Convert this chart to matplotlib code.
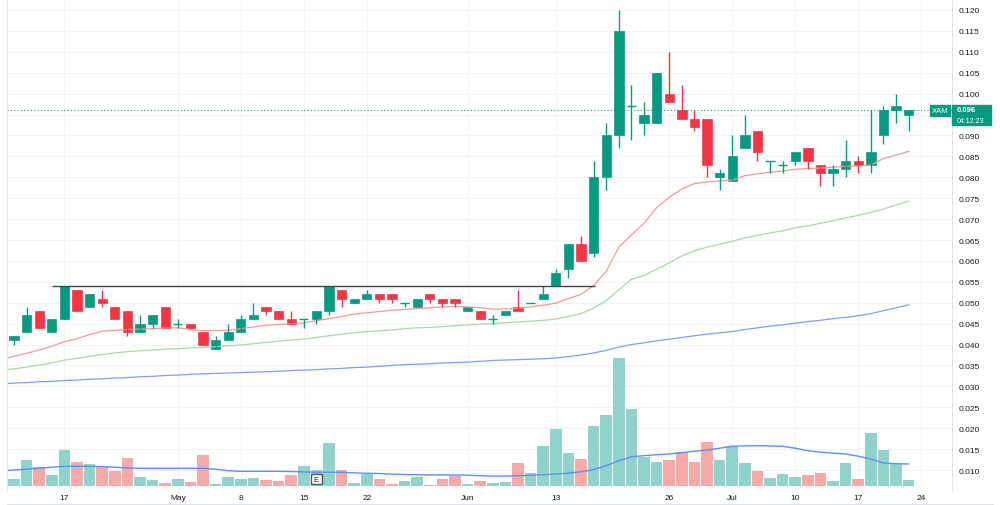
import numpy as np
import matplotlib
matplotlib.use('Agg')
import matplotlib.pyplot as plt
from matplotlib.patches import Rectangle
from matplotlib.lines import Line2D

# OHLC, one row per trading day (11 Apr .. 21 Jul)
opens = [0.041, 0.043, 0.048, 0.043, 0.046, 0.053, 0.049, 0.051, 0.049, 0.048,
         0.043, 0.045, 0.049, 0.045, 0.045, 0.043, 0.039, 0.041, 0.043, 0.046,
         0.049, 0.048, 0.046, 0.046, 0.046, 0.048, 0.053, 0.050, 0.051, 0.052,
         0.052, 0.050, 0.049, 0.052, 0.051, 0.051, 0.048, 0.048, 0.046, 0.047,
         0.049, 0.050, 0.051, 0.054, 0.058, 0.064, 0.062, 0.080, 0.090, 0.097,
         0.093, 0.093, 0.100, 0.096, 0.094, 0.094, 0.080, 0.079, 0.087, 0.091,
         0.084, 0.083, 0.084, 0.087, 0.083, 0.081, 0.082, 0.084, 0.083, 0.090,
         0.096, 0.095]
highs = [0.042, 0.049, 0.048, 0.046, 0.054, 0.053, 0.052, 0.053, 0.049, 0.048,
         0.047, 0.047, 0.049, 0.046, 0.045, 0.043, 0.042, 0.045, 0.047, 0.050,
         0.049, 0.048, 0.048, 0.046, 0.048, 0.054, 0.053, 0.051, 0.053, 0.052,
         0.052, 0.050, 0.051, 0.052, 0.051, 0.051, 0.049, 0.048, 0.047, 0.048,
         0.053, 0.050, 0.054, 0.058, 0.064, 0.066, 0.084, 0.093, 0.120, 0.102,
         0.098, 0.105, 0.110, 0.102, 0.096, 0.094, 0.082, 0.090, 0.095, 0.091,
         0.084, 0.084, 0.086, 0.087, 0.083, 0.083, 0.089, 0.085, 0.096, 0.097,
         0.100, 0.096]
lows = [0.040, 0.043, 0.044, 0.043, 0.046, 0.048, 0.049, 0.049, 0.046, 0.042,
        0.043, 0.044, 0.044, 0.044, 0.044, 0.040, 0.039, 0.041, 0.043, 0.046,
        0.047, 0.046, 0.045, 0.044, 0.045, 0.047, 0.049, 0.050, 0.051, 0.050,
        0.050, 0.049, 0.049, 0.050, 0.049, 0.049, 0.048, 0.046, 0.045, 0.047,
        0.048, 0.050, 0.051, 0.054, 0.056, 0.060, 0.061, 0.077, 0.087, 0.089,
        0.090, 0.093, 0.098, 0.094, 0.091, 0.080, 0.077, 0.079, 0.087, 0.084,
        0.081, 0.081, 0.083, 0.082, 0.078, 0.078, 0.080, 0.081, 0.081, 0.088,
        0.093, 0.091]
closes = [0.042, 0.047, 0.044, 0.046, 0.054, 0.048, 0.052, 0.050, 0.046, 0.043,
          0.045, 0.047, 0.044, 0.045, 0.044, 0.040, 0.041, 0.043, 0.046, 0.047,
          0.048, 0.046, 0.045, 0.046, 0.048, 0.054, 0.051, 0.051, 0.052, 0.051,
          0.051, 0.050, 0.051, 0.051, 0.050, 0.050, 0.049, 0.046, 0.046, 0.048,
          0.048, 0.050, 0.052, 0.057, 0.064, 0.060, 0.080, 0.090, 0.115, 0.097,
          0.095, 0.105, 0.098, 0.094, 0.092, 0.083, 0.081, 0.085, 0.090, 0.086,
          0.084, 0.083, 0.086, 0.084, 0.081, 0.082, 0.084, 0.083, 0.086, 0.096,
          0.097, 0.096]
# volume (millions)
volume = [0.67, 2.6, 1.83, 1.07, 3.6, 2.33, 2.17, 1.83, 1.43, 2.77,
          0.9, 0.6, 0.27, 0.67, 0.33, 3.1, 0.17, 0.87, 0.67, 0.77,
          0.6, 0.43, 1.1, 1.93, 1.57, 4.23, 1.57, 0.27, 1.17, 0.67,
          0.17, 0.43, 0.83, 0.1, 0.67, 1.0, 0.17, 0.5, 0.27, 0.33,
          2.23, 1.23, 3.93, 5.67, 3.23, 2.67, 5.93, 7.03, 12.77, 7.7,
          2.87, 2.33, 2.6, 3.33, 2.4, 4.33, 2.57, 3.93, 2.27, 1.47,
          0.77, 1.2, 0.9, 1.07, 1.23, 0.43, 2.27, 0.63, 5.27, 3.53,
          2.23, 0.57]

# moving averages, from the bar before the first one to the last bar
ma_fast = [0.0364, 0.0372, 0.0379, 0.0387, 0.0396, 0.0407, 0.0414, 0.0424, 0.0432, 0.0434,
           0.0436, 0.0437, 0.0438, 0.0440, 0.0440, 0.0436, 0.0433, 0.0433, 0.0434, 0.0438,
           0.0442, 0.0446, 0.0448, 0.0450, 0.0452, 0.0457, 0.0462, 0.0467, 0.0473, 0.0476,
           0.0479, 0.0482, 0.0484, 0.0486, 0.0488, 0.0490, 0.0491, 0.0490, 0.0488, 0.0485,
           0.0485, 0.0487, 0.0490, 0.0494, 0.0499, 0.0510, 0.0520, 0.0541, 0.0575, 0.0633,
           0.0662, 0.0690, 0.0727, 0.0752, 0.0772, 0.0785, 0.0789, 0.0791, 0.0793, 0.0804,
           0.0808, 0.0812, 0.0815, 0.0819, 0.0821, 0.0822, 0.0824, 0.0826, 0.0827, 0.0829,
           0.0845, 0.0853, 0.0862]
ma_mid = [0.0338, 0.0342, 0.0346, 0.0351, 0.0356, 0.0363, 0.0367, 0.0372, 0.0376, 0.0380,
          0.0383, 0.0385, 0.0387, 0.0389, 0.0390, 0.0392, 0.0393, 0.0395, 0.0397, 0.0399,
          0.0402, 0.0405, 0.0408, 0.0411, 0.0413, 0.0417, 0.0421, 0.0425, 0.0428, 0.0431,
          0.0433, 0.0435, 0.0438, 0.0440, 0.0441, 0.0443, 0.0445, 0.0447, 0.0449, 0.0450,
          0.0452, 0.0454, 0.0456, 0.0458, 0.0461, 0.0467, 0.0474, 0.0487, 0.0505, 0.0531,
          0.0556, 0.0565, 0.0580, 0.0595, 0.0612, 0.0624, 0.0633, 0.0640, 0.0647, 0.0655,
          0.0661, 0.0667, 0.0672, 0.0679, 0.0684, 0.0690, 0.0696, 0.0703, 0.0709, 0.0716,
          0.0724, 0.0734, 0.0743]
ma_slow = [0.0306, 0.0308, 0.0309, 0.0311, 0.0312, 0.0314, 0.0315, 0.0317, 0.0318, 0.0320,
           0.0321, 0.0323, 0.0324, 0.0326, 0.0327, 0.0329, 0.0330, 0.0331, 0.0332, 0.0333,
           0.0334, 0.0335, 0.0336, 0.0338, 0.0339, 0.0340, 0.0342, 0.0343, 0.0345, 0.0346,
           0.0348, 0.0350, 0.0352, 0.0353, 0.0354, 0.0356, 0.0357, 0.0358, 0.0360, 0.0362,
           0.0363, 0.0364, 0.0365, 0.0366, 0.0368, 0.0371, 0.0375, 0.0380, 0.0386, 0.0394,
           0.0400, 0.0404, 0.0409, 0.0413, 0.0417, 0.0421, 0.0425, 0.0428, 0.0431, 0.0436,
           0.0440, 0.0444, 0.0447, 0.0451, 0.0455, 0.0458, 0.0462, 0.0465, 0.0469, 0.0474,
           0.0481, 0.0488, 0.0495]
vol_ma = [1.5, 1.57, 1.65, 1.75, 1.85, 1.94, 1.94, 1.94, 1.92, 1.85,
          1.77, 1.74, 1.74, 1.74, 1.74, 1.74, 1.74, 1.65, 1.5, 1.44,
          1.44, 1.44, 1.44, 1.42, 1.38, 1.35, 1.35, 1.34, 1.28, 1.24,
          1.22, 1.16, 1.12, 1.1, 1.08, 1.07, 1.07, 1.05, 1.0, 0.96,
          0.96, 1.0, 1.04, 1.1, 1.17, 1.26, 1.4, 1.6, 2.0, 2.5,
          2.9, 3.0, 3.1, 3.17, 3.3, 3.45, 3.57, 3.75, 3.94, 3.98,
          4.0, 3.98, 3.94, 3.75, 3.5, 3.35, 3.25, 3.17, 2.95, 2.67,
          2.27, 2.2, 2.17]

resistance = 0.054
last_price = 0.096

tick_idx = [4, 13, 18, 23, 28, 36, 43, 52, 57, 62, 67, 72]
tick_lab = ['17', 'May', '8', '15', '22', 'Jun', '13', '26', 'Jul', '10', '17', '24']
price_ticks = np.arange(0.010, 0.1201, 0.005)

GREEN = '#089981'
RED = '#f23645'

plt.rcParams['font.family'] = ['Liberation Sans', 'DejaVu Sans']

fig = plt.figure(figsize=(10, 5.06), dpi=100)
ax = fig.add_axes([0.007, 15 / 506, 0.945, 491 / 506])
axv = ax.twinx()
ax.set_zorder(2)
axv.set_zorder(1)
ax.patch.set_visible(False)

ax.set_xlim(-0.556, 74.44)
ax.set_ylim(0.005222, 0.12263)

n = len(closes)
idx = np.arange(n)
up = [c >= o for o, c in zip(opens, closes)]

# grid goes on the lower axes so it stays behind the volume bars
yt = ax.get_yaxis_transform()
xt = ax.get_xaxis_transform()
for p in price_ticks:
    axv.add_line(Line2D([0, 1], [p, p], transform=yt, color='#f0f3fa', lw=0.8, zorder=0))
for t in tick_idx:
    axv.add_line(Line2D([t, t], [0, 1], transform=xt, color='#f0f3fa', lw=0.8, zorder=0))

# volume
vcol = ['#92d2cc' if u else '#f7a9a7' for u in up]
axv.bar(idx, volume, width=0.92, color=vcol, zorder=1)
axv.plot(np.arange(-1, n), vol_ma, color='#5b8ff9', lw=1.0, zorder=2)
axv.set_ylim(-0.43, 48.67)
axv.set_yticks([])
for s in axv.spines.values():
    s.set_visible(False)

# moving averages
ma_x = np.arange(-1, n)
ax.plot(ma_x, ma_slow, color='#7f9ef5', lw=0.9)
ax.plot(ma_x, ma_mid, color='#a8d8a8', lw=0.9)
ax.plot(ma_x, ma_fast, color='#f49a94', lw=0.9)

# candles
for i in range(n):
    col = GREEN if up[i] else RED
    ax.vlines(i, lows[i], highs[i], color=col, lw=1.0)
    if opens[i] == closes[i]:
        ax.hlines(opens[i], i - 0.37, i + 0.37, color=col, lw=1.0)
    else:
        ax.bar(i, abs(closes[i] - opens[i]), bottom=min(opens[i], closes[i]),
               width=0.74, color=col, edgecolor=col, lw=0.5)

ax.hlines(resistance, 3.0, 46.1, color='#434651', lw=1.0)
ax.axhline(last_price, color=GREEN, lw=0.8, ls=(0, (1, 2)))

ax.yaxis.tick_right()
ax.set_yticks(price_ticks)
# the 0.095 label sits under the last-price tag
ax.set_yticklabels(['' if abs(v - 0.095) < 1e-6 else '%.3f' % v for v in price_ticks])
ax.set_xticks(tick_idx)
ax.set_xticklabels(tick_lab)
ax.tick_params(axis='both', length=0, labelsize=6, colors='#131722')
ax.tick_params(axis='y', pad=5)
ax.tick_params(axis='x', pad=3)
for k, s in ax.spines.items():
    s.set_visible(k in ('left', 'right'))
    s.set_color('#e0e3eb')
    s.set_linewidth(0.8)

# price tags
ax.add_patch(Rectangle((0.977, 0.0947), 0.021, 0.0025, transform=yt,
                       color=GREEN, clip_on=False, zorder=5))
ax.text(0.9875, 0.0959, 'XAM', transform=yt, color='white', fontsize=5.5,
        ha='center', va='center', zorder=6, clip_on=False)
ax.add_patch(Rectangle((1.0, 0.0925), 0.041, 0.0048, transform=yt,
                       color=GREEN, clip_on=False, zorder=5))
ax.text(1.005, 0.0962, '0.096', transform=yt, color='white', fontsize=5.5,
        ha='left', va='center', zorder=6, clip_on=False, fontweight='bold')
ax.text(1.005, 0.0936, '04:12:23', transform=yt, color='white', fontsize=5,
        ha='left', va='center', zorder=6, clip_on=False)

# earnings marker
ax.add_patch(Rectangle((24 - 0.45, 0.0122), 0.9, 0.0204, transform=xt,
                       facecolor='white', edgecolor='#50535e', lw=1.0, zorder=5))
ax.text(24, 0.0224, 'E', transform=xt, fontsize=5.5, color='#131722',
        ha='center', va='center', zorder=6)

fig.add_artist(Line2D([0.007, 0.993], [1 / 506, 1 / 506], color='#e0e3eb', lw=0.8))

fig.savefig('out.png', dpi=100)
